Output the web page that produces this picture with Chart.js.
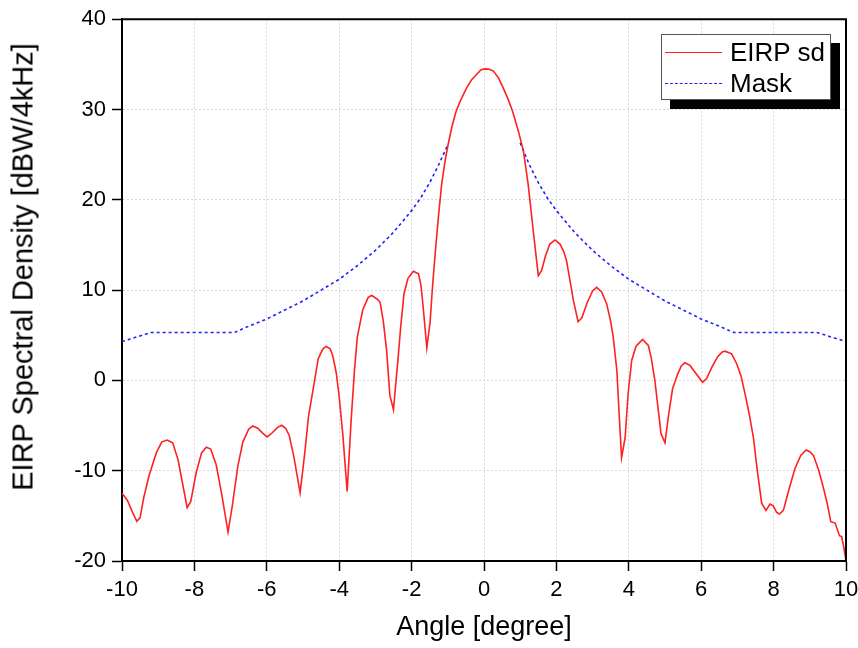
<!DOCTYPE html>
<html>
<head>
<meta charset="utf-8">
<script src="https://cdn.jsdelivr.net/npm/chart.js@4.4.1/dist/chart.umd.min.js"></script>
<style>
  html, body { margin: 0; padding: 0; background: #fff; }
  #wrap { position: relative; width: 858px; height: 648px; }
  #legend {
    position: absolute; left: 661px; top: 34px; width: 168px; height: 64px;
    background: #fff; border: 1px solid #555; box-shadow: 9px 9px 0 #000;
    font-family: "Liberation Sans", Arial, sans-serif; font-size: 26px; color: #000;
  }
  .row { position: absolute; left: 0; height: 30px; line-height: 30px; white-space: nowrap; }
  .sample { position: absolute; left: 3px; width: 57px; top: 15px; height: 0; }
  .lab { position: absolute; left: 68px; top: 0; }
  #ytitle {
    position: absolute; left: 23px; top: 267px; transform: translate(-50%, -50%) rotate(-90deg);
    font-family: "Liberation Sans", Arial, sans-serif; font-size: 29px; color: #000; white-space: nowrap;
  }
</style>
</head>
<body>
<div id="wrap">
  <canvas id="c" width="858" height="648"></canvas>
  <div id="ytitle">EIRP Spectral Density [dBW/4kHz]</div>
  <div id="legend">
    <div class="row" style="top:2px"><span class="sample" style="border-top:1.5px solid #ff2020"></span><span class="lab">EIRP sd</span></div>
    <div class="row" style="top:33px"><span class="sample" style="border-top:1.5px dashed #2020ff"></span><span class="lab">Mask</span></div>
  </div>
</div>
<script>
const eirpAngles = [-10,-9.85,-9.7,-9.59,-9.5,-9.4,-9.25,-9.05,-8.9,-8.75,-8.6,-8.45,-8.3,-8.2,-8.1,-7.95,-7.8,-7.67,-7.55,-7.4,-7.25,-7.07,-6.95,-6.8,-6.66,-6.5,-6.39,-6.25,-6.1,-5.99,-5.85,-5.7,-5.59,-5.48,-5.38,-5.25,-5.08,-4.95,-4.85,-4.7,-4.58,-4.45,-4.36,-4.25,-4.18,-4.08,-4.0,-3.9,-3.78,-3.67,-3.58,-3.5,-3.35,-3.2,-3.1,-2.95,-2.87,-2.78,-2.69,-2.6,-2.5,-2.44,-2.37,-2.3,-2.21,-2.1,-1.95,-1.81,-1.74,-1.68,-1.58,-1.49,-1.42,-1.35,-1.25,-1.17,-1.08,-0.99,-0.88,-0.77,-0.66,-0.48,-0.34,-0.2,-0.08,0.03,0.15,0.26,0.4,0.53,0.66,0.79,0.95,1.09,1.22,1.36,1.5,1.59,1.7,1.82,1.96,2.1,2.2,2.28,2.37,2.47,2.6,2.7,2.85,3.0,3.11,3.25,3.39,3.5,3.57,3.67,3.73,3.8,3.9,3.98,4.08,4.2,4.38,4.54,4.62,4.72,4.8,4.89,5.0,5.1,5.21,5.35,5.45,5.55,5.69,5.85,6.04,6.15,6.3,6.45,6.58,6.66,6.84,6.98,7.1,7.21,7.33,7.44,7.55,7.67,7.79,7.9,7.99,8.08,8.16,8.27,8.43,8.59,8.75,8.9,9.0,9.1,9.25,9.37,9.48,9.58,9.7,9.82,9.88,9.94,10.0];
const eirpValues = [-12.5,-13.3,-14.7,-15.6,-15.2,-13.0,-10.5,-8.0,-6.8,-6.6,-6.9,-8.8,-12.0,-14.1,-13.4,-10.2,-8.0,-7.4,-7.6,-9.3,-12.5,-16.8,-13.8,-9.5,-6.8,-5.4,-5.05,-5.3,-5.9,-6.26,-5.8,-5.2,-4.97,-5.3,-6.1,-8.5,-12.45,-8.0,-4.05,-0.5,2.4,3.5,3.76,3.5,2.76,0.8,-1.84,-6.0,-12.3,-4.4,1.0,4.8,7.8,9.2,9.4,9.0,8.65,6.5,3.3,-1.66,-3.24,-0.5,2.6,6.0,9.6,11.3,12.08,11.8,10.5,8.1,3.6,6.4,10.5,14.0,18.5,21.7,24.2,26.15,28.2,29.8,30.9,32.4,33.3,33.9,34.4,34.5,34.45,34.25,33.5,32.4,31.2,29.8,27.6,25.4,21.7,16.6,11.6,12.15,13.8,15.1,15.55,15.1,14.3,13.25,11.2,8.84,6.5,6.9,8.6,9.9,10.3,9.8,8.47,6.5,4.8,1.1,-3.5,-8.55,-6.3,-1.5,2.2,3.8,4.53,3.87,2.5,0,-2.8,-5.9,-6.9,-3.8,-0.9,0.7,1.6,1.96,1.66,0.8,-0.2,0.2,1.5,2.6,3.15,3.24,2.95,1.85,0.5,-1.47,-3.8,-6.27,-10.0,-13.6,-14.4,-13.7,-13.9,-14.6,-14.8,-14.4,-12.0,-9.76,-8.3,-7.7,-7.9,-8.3,-10.0,-11.8,-13.6,-15.65,-15.8,-17.2,-17.3,-18.5,-20.0];

const maskAngles = [-10,-9.6,-9.2,-6.9,-6.5,-6,-5.5,-5,-4.5,-4,-3.5,-3,-2.5,-2,-1.75,-1.5,-1.25,-1,0,1,1.25,1.5,1.75,2,2.5,3,3.5,4,4.5,5,5.5,6,6.5,6.9,9.2,9.6,10];
const maskValues = [4.3,4.8,5.3,5.3,6.0,6.8,7.8,8.8,10.0,11.2,12.7,14.4,16.4,18.8,20.2,21.9,23.9,26.1,null,26.3,23.9,21.9,20.2,18.8,16.4,14.4,12.7,11.2,10.0,8.8,7.8,6.8,6.0,5.3,5.3,4.8,4.3];

const xTicks = [-10,-8,-6,-4,-2,0,2,4,6,8,10];
const yTicks = [-20,-10,0,10,20,30,40];

const frame = {
  id: 'frame',
  afterDatasetsDraw(chart) {
    const a = chart.chartArea, ctx = chart.ctx;
    ctx.save();
    ctx.strokeStyle = '#000';
    ctx.lineWidth = 2;
    ctx.beginPath();
    ctx.moveTo(a.left, a.top);
    ctx.lineTo(a.right, a.top);
    ctx.lineTo(a.right, a.bottom);
    ctx.stroke();
    ctx.restore();
  }
};

const tickFont = { family: '"Liberation Sans", Arial, sans-serif', size: 22 };
const titleFont = { family: '"Liberation Sans", Arial, sans-serif', size: 27 };

new Chart(document.getElementById('c'), {
  type: 'line',
  data: {
    datasets: [
      {
        label: 'EIRP sd',
        data: eirpAngles.map((a, i) => ({ x: a, y: eirpValues[i] })),
        borderColor: '#ff2020',
        borderWidth: 1.6,
        pointRadius: 0,
        tension: 0,
        fill: false
      },
      {
        label: 'Mask',
        data: maskAngles.map((a, i) => ({ x: a, y: maskValues[i] })),
        borderColor: '#2020ff',
        borderWidth: 1.6,
        borderDash: [3, 3],
        pointRadius: 0,
        tension: 0,
        spanGaps: false,
        fill: false
      }
    ]
  },
  options: {
    responsive: false,
    animation: false,
    layout: { padding: { top: 18, right: 0, left: 0, bottom: 0 } },
    plugins: { legend: { display: false }, tooltip: { enabled: false } },
    scales: {
      x: {
        type: 'linear', min: -10, max: 10,
        afterBuildTicks: s => { s.ticks = xTicks.map(v => ({ value: v })); },
        afterFit: s => { s.height = 87; s.paddingRight = 12; s.paddingLeft = 0; },
        ticks: { color: '#000', font: tickFont, padding: 6, maxRotation: 0 },
        grid: { color: '#d8d8d8', lineWidth: 1, tickColor: '#000', tickLength: 10, tickWidth: 1.5, tickBorderDash: [] },
        border: { display: true, color: '#000', width: 2, dash: [2, 2] },
        title: { display: true, text: 'Angle [degree]', color: '#000', font: titleFont, padding: { top: 10 } }
      },
      y: {
        type: 'linear', min: -20, max: 40,
        afterBuildTicks: s => { s.ticks = yTicks.map(v => ({ value: v })); },
        afterFit: s => { s.width = 122; },
        ticks: { color: '#000', font: tickFont, padding: 6 },
        grid: { color: '#d8d8d8', lineWidth: 1, tickColor: '#000', tickLength: 10, tickWidth: 1.5, tickBorderDash: [] },
        border: { display: true, color: '#000', width: 2, dash: [2, 2] },
        title: { display: false }
      }
    }
  },
  plugins: [frame]
});
</script>
</body>
</html>
